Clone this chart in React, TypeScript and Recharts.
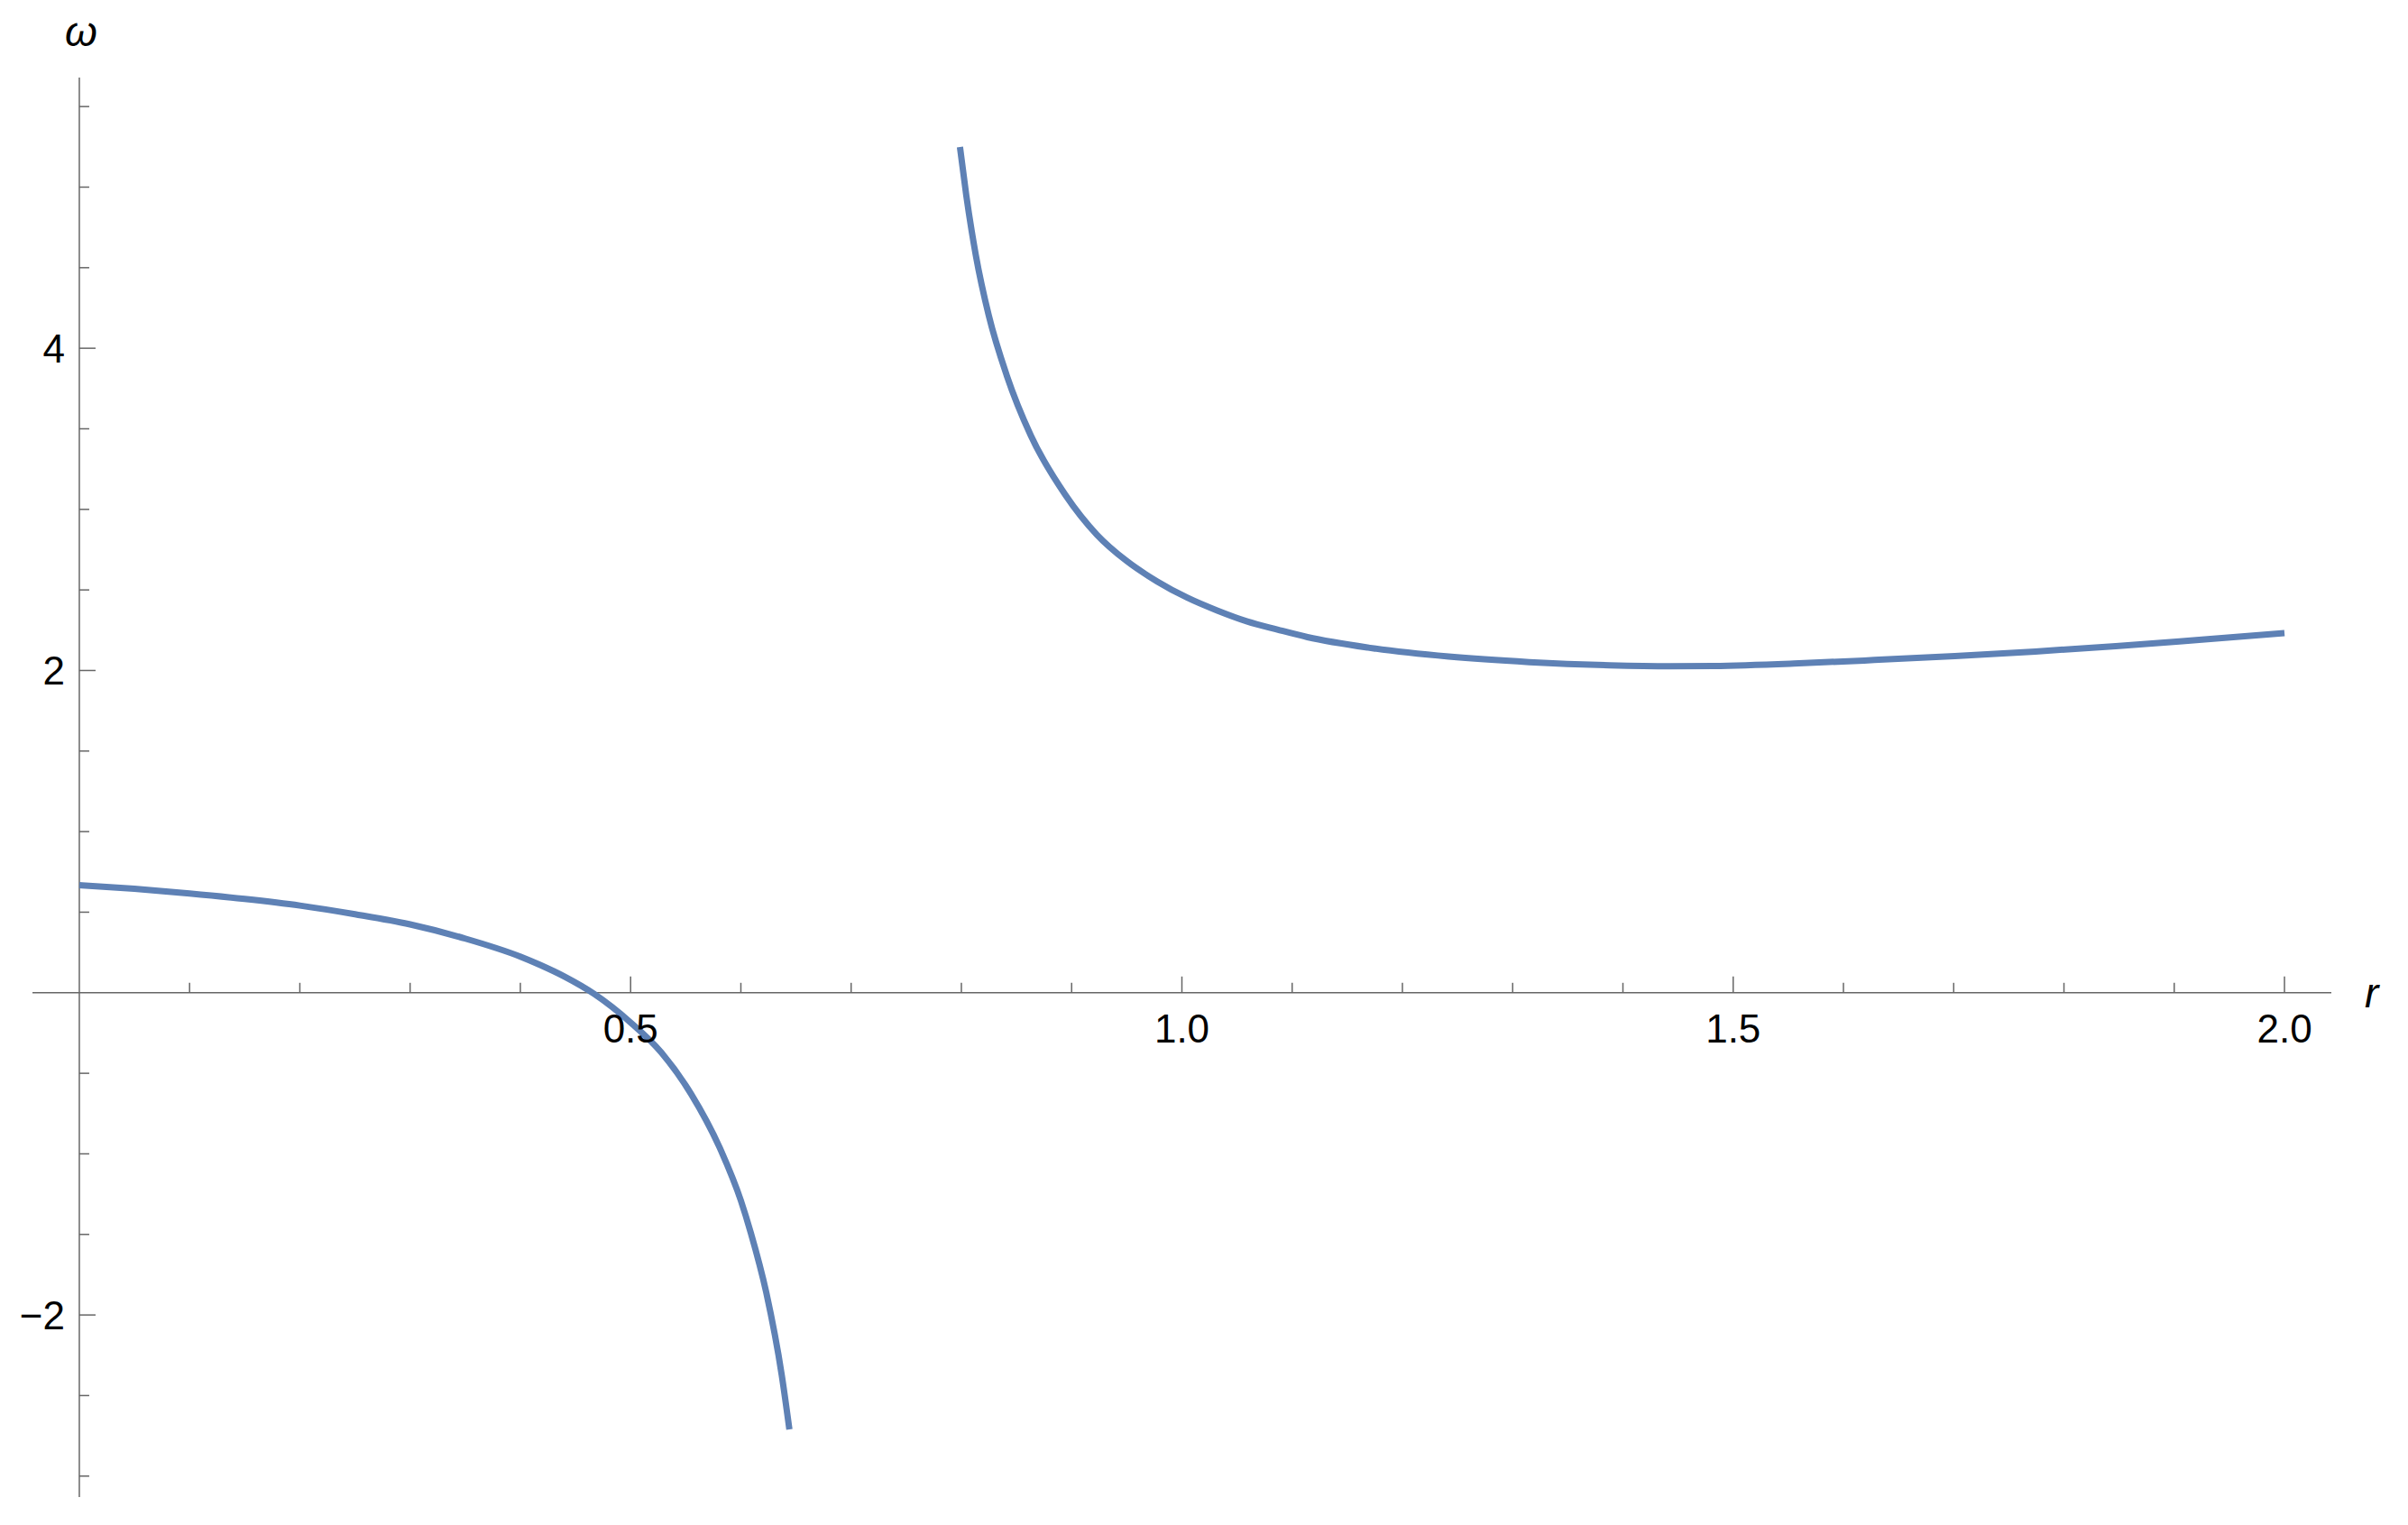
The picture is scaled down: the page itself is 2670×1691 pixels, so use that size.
import { LineChart, Line, XAxis, YAxis, ReferenceLine, ReferenceDot } from 'recharts';

// lower branch, r in [0, ~0.645]
const lowR = [0, 0.05, 0.1, 0.15, 0.2, 0.25, 0.3, 0.35, 0.4, 0.418, 0.44, 0.467, 0.5, 0.528, 0.555, 0.582, 0.6, 0.609, 0.623, 0.637, 0.644];
const lowW = [0.668, 0.645, 0.616, 0.582, 0.541, 0.487, 0.424, 0.336, 0.224, 0.172, 0.1, -0.008, -0.185, -0.372, -0.63, -0.98, -1.29, -1.49, -1.86, -2.37, -2.71];

// upper branch, r in [~0.8, 2]
const highR = [0.7987, 0.8044, 0.8131, 0.8248, 0.8412, 0.863, 0.8943, 0.923, 0.9502, 0.9775, 1.0048, 1.032, 1.0593, 1.0866, 1.1139, 1.169, 1.242, 1.315, 1.388, 1.443, 1.482, 1.555, 1.628, 1.701, 1.774, 1.847, 1.92, 2.0];
const highW = [5.249, 4.95, 4.577, 4.204, 3.83, 3.458, 3.09, 2.842, 2.678, 2.553, 2.452, 2.372, 2.304, 2.254, 2.207, 2.142, 2.086, 2.052, 2.032, 2.026, 2.028, 2.043, 2.065, 2.09, 2.118, 2.151, 2.189, 2.232];

const xMajorTicks = [0.5, 1.0, 1.5, 2.0];
const xMajorLabels = ['0.5', '1.0', '1.5', '2.0'];
const xMinorTicks = [0.1, 0.2, 0.3, 0.4, 0.6, 0.7, 0.8, 0.9, 1.1, 1.2, 1.3, 1.4, 1.6, 1.7, 1.8, 1.9];
const yMajorTicks = [-2, 2, 4];
const yMajorLabels = ['\u22122', '2', '4'];
const yMinorTicks = [-3, -2.5, -1.5, -1, -0.5, 0.5, 1, 1.5, 2.5, 3, 3.5, 4.5, 5, 5.5];

const xDomain: [number, number] = [-0.0425, 2.0425];
const yDomain: [number, number] = [-3.13, 5.68];

const lowData = lowR.map((r, i) => ({ r, w: lowW[i] }));
const highData = highR.map((r, i) => ({ r, w: highW[i] }));

const AXIS = '#666666';
const CURVE = '#5E81B5';
const FONT = "'Liberation Sans', Arial, sans-serif";

const upTick = (len: number) => (p: any) => (
  <line x1={p.cx} y1={p.cy} x2={p.cx} y2={p.cy - len} stroke={AXIS} strokeWidth={1.5} />
);
const rightTick = (len: number) => (p: any) => (
  <line x1={p.cx} y1={p.cy} x2={p.cx + len} y2={p.cy} stroke={AXIS} strokeWidth={1.5} />
);

export default function App() {
  return (
    <div style={{ width: 2670, height: 1691, background: '#fff' }}>
      <style>{'body{margin:0}'}</style>
      <LineChart width={2670} height={1691} margin={{ top: 86, right: 85, bottom: 31, left: 36 }}>
        <XAxis type="number" dataKey="r" domain={xDomain} allowDataOverflow hide />
        <YAxis type="number" dataKey="w" domain={yDomain} allowDataOverflow hide />

        <ReferenceLine y={0} stroke={AXIS} strokeWidth={1.5} />
        <ReferenceLine x={0} stroke={AXIS} strokeWidth={1.5} />

        {xMinorTicks.map((t) => (
          <ReferenceDot key={`xm${t}`} x={t} y={0} r={0} shape={upTick(11)} />
        ))}
        {xMajorTicks.map((t, i) => (
          <ReferenceDot
            key={`xM${t}`}
            x={t}
            y={0}
            r={0}
            shape={(p: any) => (
              <g>
                <line x1={p.cx} y1={p.cy} x2={p.cx} y2={p.cy - 18} stroke={AXIS} strokeWidth={1.5} />
                <text x={p.cx} y={p.cy + 55} textAnchor="middle" fontFamily={FONT} fontSize={44} fill="#000">
                  {xMajorLabels[i]}
                </text>
              </g>
            )}
          />
        ))}
        {yMinorTicks.map((t) => (
          <ReferenceDot key={`ym${t}`} x={0} y={t} r={0} shape={rightTick(11)} />
        ))}
        {yMajorTicks.map((t, i) => (
          <ReferenceDot
            key={`yM${t}`}
            x={0}
            y={t}
            r={0}
            shape={(p: any) => (
              <g>
                <line x1={p.cx} y1={p.cy} x2={p.cx + 18} y2={p.cy} stroke={AXIS} strokeWidth={1.5} />
                <text x={p.cx - 16} y={p.cy + 16} textAnchor="end" fontFamily={FONT} fontSize={44} fill="#000">
                  {yMajorLabels[i]}
                </text>
              </g>
            )}
          />
        ))}

        {/* axis labels */}
        <ReferenceDot
          x={xDomain[1]}
          y={0}
          r={0}
          ifOverflow="visible"
          shape={(p: any) => (
            <text x={p.cx + 37} y={p.cy + 16} fontFamily={FONT} fontStyle="italic" fontSize={46} fill="#000">
              r
            </text>
          )}
        />
        <ReferenceDot
          x={0}
          y={yDomain[1]}
          r={0}
          ifOverflow="visible"
          shape={(p: any) => (
            <text x={p.cx + 2} y={p.cy - 35} textAnchor="middle" fontFamily={FONT} fontStyle="italic" fontSize={46} fill="#000">
              ω
            </text>
          )}
        />

        <Line data={lowData} dataKey="w" type="monotone" stroke={CURVE} strokeWidth={7} dot={false} activeDot={false} isAnimationActive={false} />
        <Line data={highData} dataKey="w" type="monotone" stroke={CURVE} strokeWidth={7} dot={false} activeDot={false} isAnimationActive={false} />
      </LineChart>
    </div>
  );
}
